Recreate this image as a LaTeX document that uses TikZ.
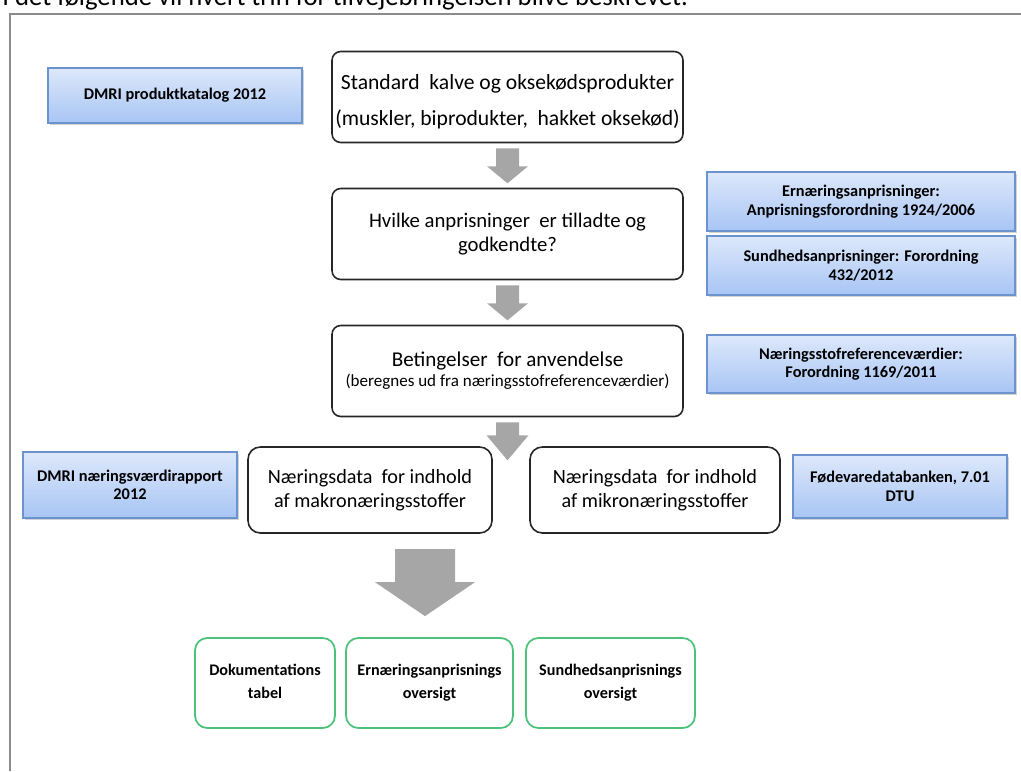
\documentclass[tikz,border=0pt]{standalone}
\usepackage{fontspec}
\setmainfont{Carlito}
\usepackage{xcolor}
\definecolor{boxline}{HTML}{262626}
\definecolor{bluetop}{HTML}{DDE8FB}
\definecolor{bluebot}{HTML}{A8C5F4}
\definecolor{blueline}{HTML}{6B93CD}
\definecolor{greenline}{HTML}{4CC27A}
\definecolor{arrowgray}{HTML}{A6A6A6}
\definecolor{framegray}{HTML}{8C8C8C}
\usepackage{tikz}
\usetikzlibrary{calc,positioning,shadows}

\def\pu{0.02cm}
\tikzset{
  stepbox/.style={draw=boxline, line width=0.9pt, rounded corners=5pt, fill=white,
    inner sep=0pt, align=center, minimum width=351*\pu, minimum height=91*\pu,
    font=\fontsize{11.5}{13.5}\selectfont},
  databox/.style={stepbox, minimum height=86*\pu, rounded corners=7pt},
  srcbox/.style={draw=blueline, line width=0.7pt, top color=bluetop, bottom color=bluebot,
    inner sep=0pt, align=center, font=\fontsize{9.3}{10.5}\selectfont\bfseries,
    drop shadow={opacity=0.35, shadow xshift=1.2pt, shadow yshift=-1.2pt}},
  outbox/.style={draw=greenline, line width=1pt, rounded corners=7pt, fill=white,
    inner sep=0pt, align=center, minimum height=90*\pu,
    font=\fontsize{9.2}{13}\selectfont\bfseries},
}

% grey block arrow: top centre, shaft half width, shaft length, head half width, head length
\newcommand{\blockarrow}[5]{%
  \fill[arrowgray] ($(#1)+(-#2,0)$) -- ++({2*#2},0) -- ++(0,#3) -- ++({#4-#2},0)
    -- ++(-#4,#5) -- ++(-#4,-#5) -- ++({#4-#2},0) -- cycle;}

\begin{document}
\begin{tikzpicture}[x=\pu, y=-\pu]
    \useasboundingbox (0,0) rectangle (1021,771);

    % frame and cut-off text above it
    \node[anchor=base west, inner sep=0pt, font=\fontsize{15.2}{18}\selectfont] (intro) at (2,5)
        {I det følgende vil hvert trin for tilvejebringelsen blive beskrevet.};
    \draw[framegray, line width=1.1pt] (1021,14) -- (10,14) -- (10,771);

    % main steps
    \node[stepbox, font=\fontsize{12.3}{14}\selectfont] (b1) at (507.5,97)
        {\rule{0pt}{14pt}Standard\ \ kalve og oksekødsprodukter\\[6pt](muskler, biprodukter,\ \ hakket oksekød)};
    \node[stepbox, font=\fontsize{11.8}{13.5}\selectfont] (b2) at (507.5,234)
        {Hvilke anprisninger\ \ er tilladte og\\godkendte?};
    \node[stepbox, font=\fontsize{12}{13.5}\selectfont] (b3) at (507.5,371)
        {Betingelser\ \ for anvendelse\\[-2pt]{\fontsize{9.7}{11}\selectfont(beregnes ud fra næringsstofreferenceværdier)}};
    \node[databox, minimum width=244*\pu] (b4) at (370,490) {Næringsdata\ \ for indhold\\af makronæringsstoffer};
    \node[databox, minimum width=250*\pu] (b5) at (655,490) {Næringsdata\ \ for indhold\\af mikronæringsstoffer};

    % sources
    \node[srcbox, minimum width=254*\pu, minimum height=55*\pu] (s1) at (175,95.5) {DMRI produktkatalog 2012};
    \node[srcbox, minimum width=308*\pu, minimum height=59*\pu] (s2) at (861,201.5)
        {Ernæringsanprisninger:\\Anprisningsforordning 1924/2006};
    \node[srcbox, minimum width=308*\pu, minimum height=59*\pu] (s3) at (861,265.5)
        {Sundhedsanprisninger: Forordning\\432/2012};
    \node[srcbox, minimum width=308*\pu, minimum height=58*\pu] (s4) at (861,364)
        {Næringsstofreferenceværdier:\\Forordning 1169/2011};
    \node[srcbox, minimum width=214*\pu, minimum height=66*\pu] (s5) at (130,485)
        {DMRI næringsværdirapport\\2012};
    \node[srcbox, minimum width=214*\pu, minimum height=63*\pu] (s6) at (900,486.5)
        {Fødevaredatabanken, 7.01\\DTU};

    % outputs
    \node[outbox, minimum width=140*\pu] (g1) at (265,683) {Dokumentations\\tabel\vphantom{g}};
    \node[outbox, minimum width=167*\pu] (g2) at (429.5,683) {Ernæringsanprisnings\\oversigt};
    \node[outbox, minimum width=169*\pu] (g3) at (610.5,683) {Sundhedsanprisnings\\oversigt};

    % arrows
    \blockarrow{$(b1.south)+(0,5)$}{11.5}{18}{20.5}{17}
    \blockarrow{$(b2.south)+(0,5)$}{11.5}{18}{20.5}{17}
    \blockarrow{$(b3.south)+(0,5)$}{11.5}{13}{21}{25}
    \coordinate (bigtop) at ($(g2.north)+(-4.5,-88)$);
    \blockarrow{bigtop}{30}{33}{50}{34}
\end{tikzpicture}
\end{document}
